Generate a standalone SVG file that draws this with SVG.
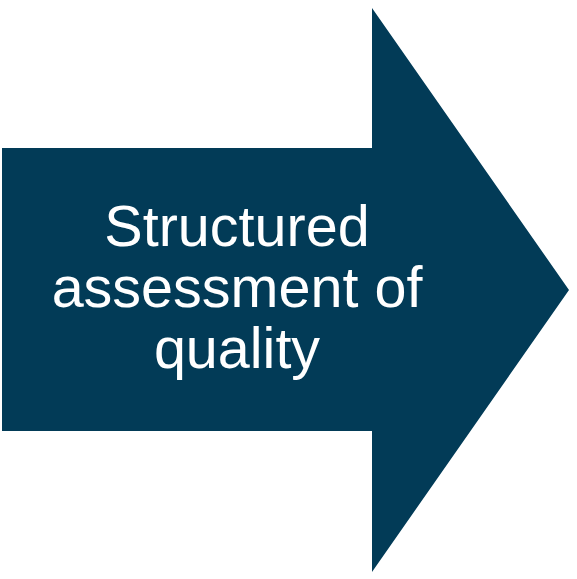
<svg xmlns="http://www.w3.org/2000/svg" width="577" height="579" viewBox="0 0 577 579">
<style>
.arrow{fill:#023b57}
.lbl{font-family:"Liberation Sans",Arial,sans-serif;font-size:57.5px;fill:#ffffff;text-anchor:middle}
</style>
<rect width="577" height="579" fill="#ffffff"/>
<g id="arrow">
<polygon class="arrow" points="2,148 372,148 372,8 569,290 372,572 372,431 2,431"/>
<text class="lbl" x="237" y="246">Structured</text>
<text class="lbl" x="237" y="307">assessment of</text>
<text class="lbl" x="237" y="368">quality</text>
</g>
</svg>
